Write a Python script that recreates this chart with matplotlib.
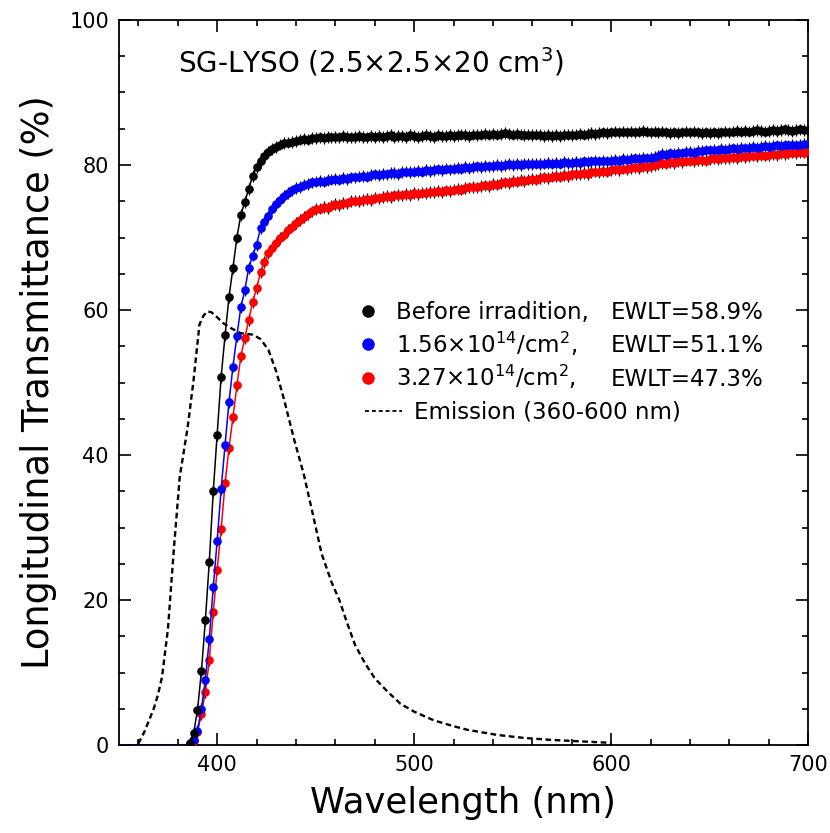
import matplotlib
matplotlib.use("Agg")
import matplotlib.pyplot as plt
import numpy as np
from matplotlib.ticker import MultipleLocator
from matplotlib.lines import Line2D

# measurement grid (nm), 2 nm steps
WAVELENGTH = np.arange(350, 701, 2)

ZEROS = [0.0] * 17  # 350-382 nm, opaque below the absorption edge

BEFORE = ZEROS + [
    0.0, 0.3, 1.6, 4.8, 10.2, 17.2, 25.3, 35.0, 42.8, 50.8,
    56.5, 61.8, 65.8, 70.0, 73.1, 74.9, 76.7, 78.5, 79.7, 80.5,
    81.3, 81.8, 82.2, 82.5, 82.8, 83.0, 83.1, 83.2, 83.3, 83.5,
    83.6, 83.5, 83.7, 83.7,
    83.8, 83.7, 83.9, 83.8, 83.9, 83.8, 84.0, 83.9, 83.8, 83.9,
    84.0, 83.9, 83.8, 84.0, 83.9, 84.0, 83.9, 84.0, 84.1, 83.9,
    84.0, 84.0, 83.9, 84.1, 84.0, 83.9, 84.0, 84.1, 84.0, 83.9,
    84.1, 84.0, 84.0, 84.1, 84.0, 84.1, 84.2, 84.1, 84.0, 84.2,
    84.1, 84.2, 84.3, 84.2, 84.3, 84.2, 84.3, 84.4, 84.3, 84.2,
    84.3, 84.2, 84.1, 84.2, 84.1, 84.2, 84.1, 84.0, 84.1, 84.0,
    84.1, 84.0, 84.1, 84.2, 84.1, 84.2, 84.3, 84.2, 84.3, 84.4,
    84.3, 84.4, 84.5, 84.4, 84.5, 84.6, 84.5, 84.6, 84.5, 84.6,
    84.5, 84.6, 84.7, 84.6, 84.5, 84.6, 84.5, 84.6, 84.5, 84.4,
    84.5, 84.4, 84.5, 84.6, 84.5, 84.6, 84.5, 84.4, 84.5, 84.4,
    84.5, 84.4, 84.5, 84.6, 84.5, 84.6, 84.7, 84.6, 84.7, 84.6,
    84.7, 84.8, 84.7, 84.6, 84.7, 84.8, 84.7, 84.8, 84.9, 84.8,
    84.7, 84.8, 84.9, 84.8, 84.8,
]

DOSE_156 = ZEROS + [
    0.0, 0.2, 0.7, 2.0, 5.0, 9.0, 14.6, 21.8, 28.2, 35.3,
    41.4, 47.3, 52.2, 56.4, 60.4, 62.7, 65.8, 67.5, 69.0, 71.3,
    72.2, 72.9, 74.0, 74.6, 75.2, 75.7, 76.1, 76.5, 76.8, 77.0,
    77.3, 77.4, 77.6, 77.7,
    77.8, 77.7, 77.9, 78.0, 78.1, 78.0, 78.2, 78.1, 78.3, 78.3,
    78.4, 78.5, 78.4, 78.6, 78.7, 78.6, 78.8, 78.7, 78.9, 78.9,
    78.8, 79.0, 79.1, 79.0, 79.1, 79.2, 79.1, 79.3, 79.2, 79.3,
    79.4, 79.3, 79.5, 79.4, 79.5, 79.6, 79.5, 79.7, 79.6, 79.7,
    79.8, 79.7, 79.9, 79.8, 79.9, 80.0, 79.9, 80.0, 80.1, 80.0,
    80.1, 80.0, 80.2, 80.1, 80.1, 80.2, 80.1, 80.2, 80.3, 80.2,
    80.3, 80.2, 80.4, 80.3, 80.3, 80.4, 80.3, 80.5, 80.4, 80.5,
    80.6, 80.5, 80.6, 80.5, 80.6, 80.7, 80.6, 80.8, 80.7, 80.8,
    80.9, 80.8, 81.0, 80.9, 81.0, 81.1, 81.2, 81.5, 81.4, 81.6,
    81.5, 81.7, 81.6, 81.8, 81.8, 81.7, 81.9, 81.9, 82.0, 82.0,
    82.1, 82.0, 82.2, 82.1, 82.2, 82.3, 82.2, 82.4, 82.3, 82.4,
    82.5, 82.4, 82.5, 82.6, 82.5, 82.6, 82.7, 82.6, 82.7, 82.7,
    82.8, 82.7, 82.8, 82.9, 82.9,
]

DOSE_327 = ZEROS + [
    0.0, 0.1, 0.5, 1.8, 4.3, 7.3, 11.7, 18.3, 24.2, 29.8,
    36.1, 41.0, 45.2, 49.6, 53.6, 56.1, 58.6, 61.1, 63.0, 65.2,
    66.6, 67.8, 68.6, 69.3, 69.9, 70.4, 71.0, 71.5, 72.0, 72.4,
    72.8, 73.2, 73.6, 73.9,
    74.0, 74.2, 74.1, 74.4, 74.6, 74.5, 74.8, 74.7, 75.0, 75.1,
    75.0, 75.2, 75.3, 75.2, 75.5, 75.4, 75.6, 75.7, 75.6, 75.8,
    75.9, 75.8, 76.0, 75.9, 76.1, 76.0, 76.2, 76.1, 76.3, 76.3,
    76.4, 76.3, 76.5, 76.4, 76.6, 76.7, 76.6, 76.8, 76.9, 77.0,
    76.9, 77.1, 77.2, 77.1, 77.4, 77.3, 77.5, 77.6, 77.5, 77.8,
    77.7, 77.9, 77.8, 78.0, 78.1, 78.0, 78.2, 78.3, 78.2, 78.4,
    78.5, 78.4, 78.6, 78.5, 78.7, 78.8, 78.7, 78.9, 78.8, 79.0,
    79.1, 79.0, 79.2, 79.1, 79.3, 79.4, 79.3, 79.5, 79.4, 79.6,
    79.7, 79.6, 79.8, 79.7, 79.9, 80.0, 80.1, 80.3, 80.2, 80.4,
    80.3, 80.5, 80.4, 80.6, 80.6, 80.5, 80.7, 80.7, 80.6, 80.8,
    80.9, 80.8, 81.0, 80.9, 81.0, 81.1, 81.0, 81.2, 81.1, 81.2,
    81.3, 81.2, 81.4, 81.3, 81.4, 81.5, 81.4, 81.6, 81.5, 81.6,
    81.7, 81.6, 81.8, 81.7, 81.9,
]

ERR = 0.8  # measurement error bar (%)

EM_WL = [360, 363, 366, 368, 370, 372, 375, 378, 381, 385, 388, 391, 393,
         395, 397, 400, 403, 407, 412, 418, 422, 426, 430, 434, 439, 444,
         448, 453, 458, 462, 466, 470, 475, 480, 486, 493, 500, 510, 520,
         527, 542, 555, 570, 585, 600]
EMISSION = [0.2, 1.8, 3.8, 5.2, 7.0, 9.4, 16.0, 27.0, 37.0, 43.8, 50.3, 58.0,
            59.2, 59.8, 59.7, 59.0, 58.2, 57.5, 56.8, 56.6, 56.0, 54.5, 51.5,
            47.6, 42.2, 37.3, 32.5, 26.4, 22.5, 20.0, 16.8, 13.8, 11.3, 9.2,
            7.5, 5.7, 4.6, 3.4, 2.6, 2.1, 1.4, 1.0, 0.7, 0.5, 0.3]

SERIES = [
    (DOSE_327, "#ff0000", "3.27×10$^{14}$/cm$^2$,", "EWLT=47.3%"),
    (DOSE_156, "#0000ff", "1.56×10$^{14}$/cm$^2$,", "EWLT=51.1%"),
    (BEFORE, "#000000", "Before irradition,", "EWLT=58.9%"),
]

plt.rcParams["font.family"] = ["DejaVu Sans"]

fig = plt.figure(figsize=(8.30, 8.33), dpi=100)
ax = fig.add_axes([0.143, 0.1056, 0.8307, 0.8704])

first = 18  # first marked point (386 nm)
for vals, col, _, _ in SERIES:
    ax.errorbar(WAVELENGTH, vals, yerr=ERR, fmt="o-", color=col, ms=6.2,
                mew=0, lw=1.1, ecolor="black", elinewidth=0.9, capsize=1.5,
                capthick=0.9, markevery=slice(first, None),
                errorevery=(first, 1), zorder=3)

ax.plot(EM_WL, EMISSION, color="black", lw=1.7, ls=(0, (2.4, 1.5)), zorder=4)

ax.set_xlim(350, 700)
ax.set_ylim(0, 100)
ax.xaxis.set_major_locator(MultipleLocator(100))
ax.xaxis.set_minor_locator(MultipleLocator(20))
ax.yaxis.set_major_locator(MultipleLocator(20))
ax.yaxis.set_minor_locator(MultipleLocator(5))
ax.tick_params(which="both", direction="in", top=True, right=True,
               width=1.2, labelsize=15, pad=7)
ax.tick_params(which="major", length=8.5)
ax.tick_params(which="minor", length=4.3)
for sp in ax.spines.values():
    sp.set_linewidth(1.3)

ax.set_xlabel("Wavelength (nm)", fontsize=25.5, labelpad=8)
ax.set_ylabel("Longitudinal Transmittance (%)", fontsize=26.5, labelpad=9)

ax.text(0.086, 0.942, "SG-LYSO (2.5×2.5×20 cm$^3$)", transform=ax.transAxes,
        fontsize=20, va="center", ha="left")

# legend: three transmittance series, then emission on its own row
handles = [Line2D([], [], marker="o", ls="none", color=c, ms=9, mew=0)
           for _, c, _, _ in SERIES[::-1]]
labels = [lab for _, _, lab, _ in SERIES[::-1]]
leg_a = ax.legend(handles, labels, loc="upper left",
                  bbox_to_anchor=(0.350, 0.612), frameon=False, fontsize=16.5,
                  handlelength=0.7, handletextpad=0.85, labelspacing=0.22,
                  borderpad=0, borderaxespad=0)
ax.add_artist(leg_a)
em_handle = Line2D([], [], color="black", lw=1.3, ls=(0, (2.2, 1.6)))
ax.legend([em_handle], ["Emission (360-600 nm)"], loc="upper left",
          bbox_to_anchor=(0.3575, 0.475), frameon=False, fontsize=16.5,
          handlelength=1.6, handletextpad=0.55, borderpad=0, borderaxespad=0)

# EWLT values lined up with the legend rows
fig.canvas.draw()
inv = ax.transAxes.inverted()
for txt, (_, _, _, ewlt) in zip(leg_a.get_texts(), SERIES[::-1]):
    base = txt.get_transform().transform(txt.get_position())
    y_ax = inv.transform(base)[1]
    ax.text(0.713, y_ax, ewlt, transform=ax.transAxes, fontsize=16.5,
            va="baseline", ha="left")

fig.savefig("out.png", dpi=100)
